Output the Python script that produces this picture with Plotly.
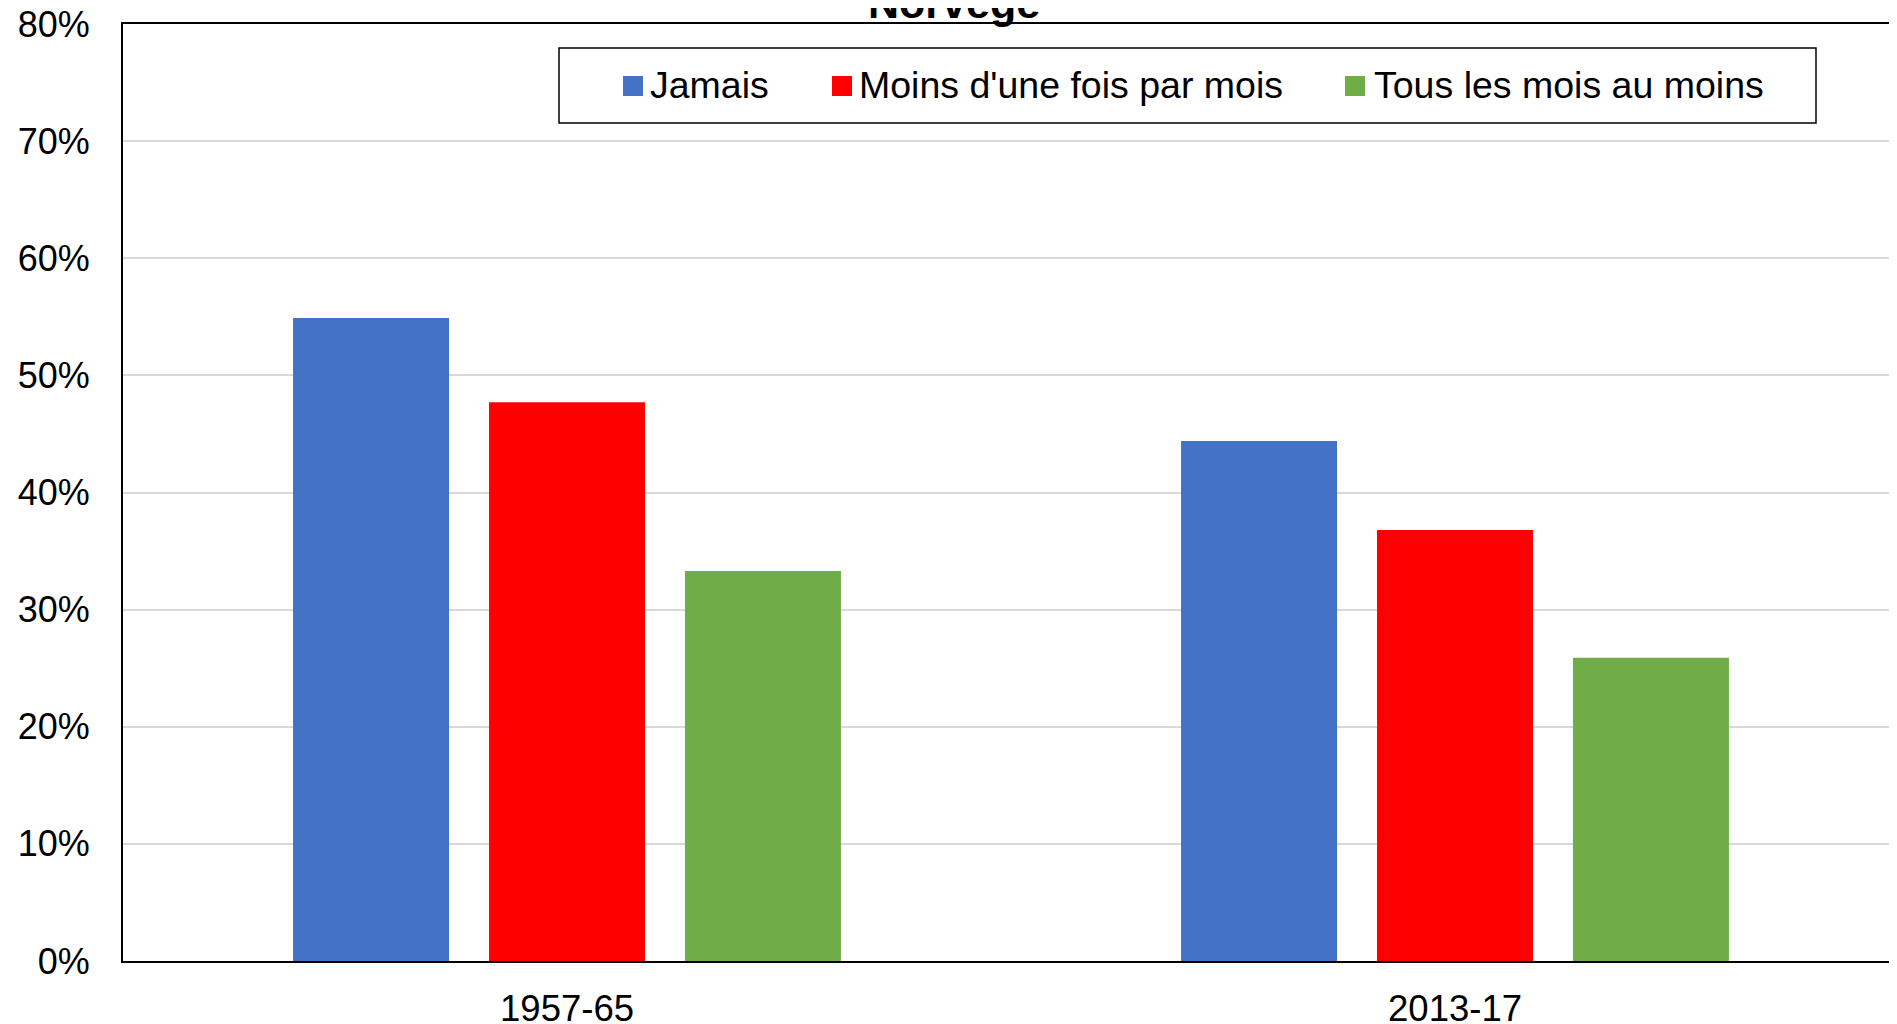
import plotly.graph_objects as go

# ---- data ----
categories = ["1957-65", "2013-17"]
series_names = ["Jamais", "Moins d'une fois par mois", "Tous les mois au moins"]
jamais = [0.549, 0.444]
moins_une_fois = [0.477, 0.368]
tous_les_mois = [0.333, 0.259]
series_colors = ["#4472C4", "#FF0000", "#70AD47"]
title_text = "Norvège"

OFF = 8  # browser body margin
W, H = 1897, 1024
ML, MT = 123 - OFF, 24 - OFF
MR = W - (1899 - OFF)
MB = H - (961 - OFF)
PW, PH = W - ML - MR, H - MT - MB
FONT = "Liberation Sans, Arial, sans-serif"


def px_x(x):
    return (x - OFF - ML) / PW


def px_y(y):
    return (H - MB - (y - OFF)) / PH


fig = go.Figure()
for name, vals, col in zip(series_names, [jamais, moins_une_fois, tous_les_mois], series_colors):
    fig.add_trace(go.Bar(x=categories, y=vals, name=name, marker=dict(color=col, line=dict(width=0)),
                         showlegend=False))

# manual legend (box + swatches + labels)
shapes = [dict(type="rect", xref="paper", yref="paper",
               x0=px_x(559), x1=px_x(1816), y0=px_y(123), y1=px_y(48),
               line=dict(color="black", width=1.5), fillcolor="white", layer="above")]
annotations = []
swatch_x = [623, 832, 1345]
text_x = [650, 859, 1374]
for name, col, sx, tx in zip(series_names, series_colors, swatch_x, text_x):
    shapes.append(dict(type="rect", xref="paper", yref="paper",
                       x0=px_x(sx), x1=px_x(sx + 20), y0=px_y(96), y1=px_y(76),
                       line=dict(width=0), fillcolor=col, layer="above"))
    annotations.append(dict(text=name, xref="paper", yref="paper", x=px_x(tx - 2), y=px_y(85),
                            xanchor="left", yanchor="middle", showarrow=False,
                            font=dict(family=FONT, size=37.5, color="black")))

# title (partly above the page, as in the reference)
annotations.append(dict(text="<b>" + title_text + "</b>", xref="paper", yref="paper",
                        x=px_x(953.5), y=px_y(3), xanchor="center", yanchor="middle",
                        showarrow=False, font=dict(family=FONT, size=43, color="black")))

fig.update_layout(
    width=W, height=H,
    margin=dict(l=ML, r=MR, t=MT, b=MB, autoexpand=False),
    paper_bgcolor="white", plot_bgcolor="white",
    barmode="group", bargap=0.338, bargroupgap=0.204,
    font=dict(family=FONT, size=36, color="black"),
    shapes=shapes, annotations=annotations,
    showlegend=False,
)
fig.update_xaxes(showline=True, linecolor="black", linewidth=2, mirror=True,
                 showgrid=False, ticks="", ticklabelstandoff=14,
                 tickfont=dict(family=FONT, size=36.5, color="black"))
fig.update_yaxes(range=[0, 0.8], dtick=0.1, tickformat=".0%",
                 showline=True, linecolor="black", linewidth=2, mirror=False,
                 showgrid=True, gridcolor="#d9d9d9", gridwidth=1.5, zeroline=False,
                 ticks="", ticklabelstandoff=24, ticklabeloverflow="allow",
                 tickfont=dict(family=FONT, size=36, color="black"))

fig.write_html("out.html")
